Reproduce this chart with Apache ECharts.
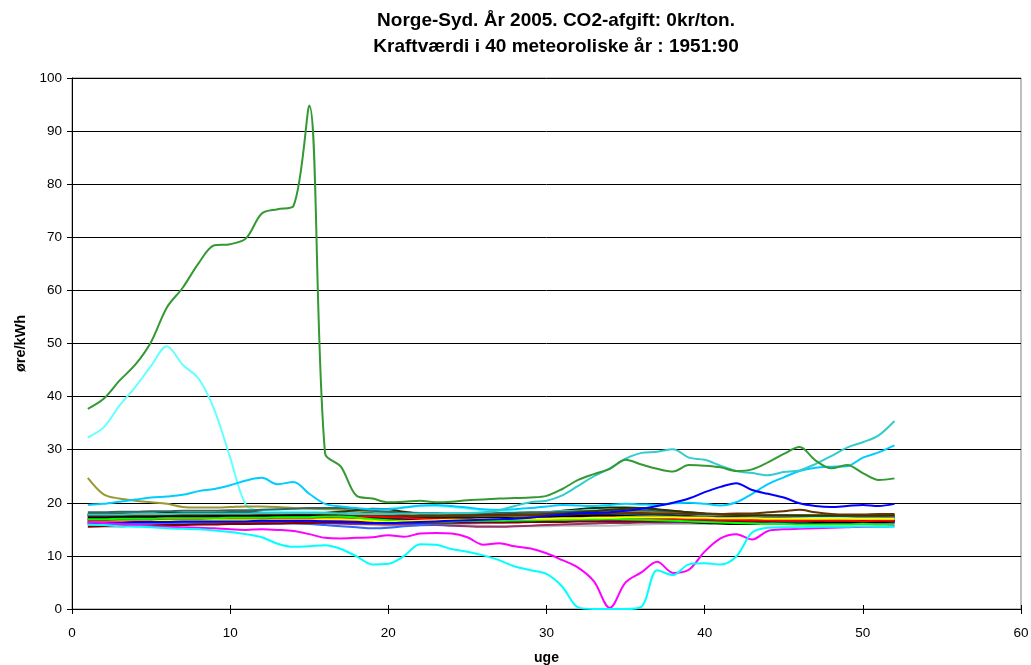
<!DOCTYPE html>
<html>
<head>
<meta charset="utf-8">
<script src="https://cdn.jsdelivr.net/npm/echarts@6/dist/echarts.min.js"></script>
<style>
  html, body { margin: 0; padding: 0; background: #fff; }
  #chart { width: 1031px; height: 665px; }
</style>
</head>
<body>
<div id="chart"></div>
<script>
// Uge-nummer (1..52) på x-aksen
const weeks = [1,2,3,4,5,6,7,8,9,10,11,12,13,14,15,16,17,18,19,20,21,22,23,24,25,26,
  27,28,29,30,31,32,33,34,35,36,37,38,39,40,41,42,43,44,45,46,47,48,49,50,51,52];

// Kraftværdi (øre/kWh) pr. uge, ét array pr. meteorologisk år
const serGreen = [37.7,39.6,43.0,46.0,50.3,56.8,60.5,65.1,68.5,68.7,69.8,74.5,75.3,
  75.9,94.8,29.3,26.8,21.3,20.8,20.1,20.2,20.4,20.1,20.2,20.5,20.6,
  20.8,20.9,21.0,21.3,22.6,24.3,25.4,26.4,28.1,27.2,26.4,25.9,27.1,
  27.0,26.7,26.0,26.3,27.6,29.2,30.5,28.0,26.5,27.1,25.6,24.3,24.6];
const serLightCyan = [32.3,34.2,38.3,41.8,45.8,49.5,46.0,43.4,37.5,28.5,19.6,18.5,18.4,
  18.3,18.3,18.2,18.3,18.4,18.6,18.9,19.2,19.4,19.4,19.2,18.9,18.6,
  18.4,18.3,18.2,18.3,18.4,18.5,18.6,18.5,18.4,18.3,18.2,18.1,17.9,
  17.8,17.8,17.7,17.6,17.5,17.5,17.4,17.3,17.2,17.1,17.0,17.0,16.9];
const serOlive = [24.7,21.6,20.8,20.4,20.1,19.8,19.2,19.1,19.1,19.2,19.3,19.3,19.2,
  19.0,18.9,18.8,18.7,18.5,18.3,18.1,18.0,17.9,17.9,17.9,17.9,17.9,
  17.9,18.0,18.0,18.1,18.1,18.2,18.2,18.3,18.3,18.3,18.2,18.1,18.0,
  17.9,17.8,17.7,17.7,17.7,17.6,17.6,17.6,17.6,17.6,17.6,17.6,17.6];
const serSkyBlue = [19.6,19.8,20.2,20.6,21.0,21.2,21.5,22.2,22.6,23.3,24.2,24.7,23.5,
  23.9,21.7,19.8,19.3,19.0,18.8,18.8,19.1,19.5,19.6,19.4,19.1,18.8,
  18.7,18.8,19.0,19.3,19.6,19.5,19.4,19.6,19.8,19.7,19.6,19.9,20.0,
  19.8,19.5,20.1,21.7,23.5,24.8,26.0,26.6,26.8,26.9,28.5,29.5,30.8];
const serTeal = [17.8,17.8,17.8,17.9,17.9,17.9,18.0,18.0,18.0,18.0,18.0,18.1,18.1,
  18.1,18.1,18.1,18.0,17.9,17.9,17.9,18.0,18.0,18.0,18.1,18.1,18.2,
  18.6,19.4,20.1,20.4,21.4,23.2,25.0,26.5,28.3,29.4,29.6,30.1,28.5,
  28.1,27.0,26.0,25.6,25.2,25.8,26.1,27.3,28.8,30.4,31.4,32.7,35.4];
const serBlue = [16.3,16.3,16.3,16.4,16.4,16.4,16.5,16.5,16.5,16.5,16.5,16.6,16.6,
  16.6,16.6,16.5,16.4,16.3,16.2,16.2,16.3,16.4,16.5,16.6,16.7,16.8,
  16.9,17.0,17.2,17.5,17.8,18.0,18.1,18.2,18.5,18.9,19.4,20.0,20.8,
  22.0,23.0,23.7,22.4,21.7,21.0,19.9,19.4,19.2,19.4,19.6,19.4,19.8];
const serMagenta = [16.4,16.2,16.0,15.8,15.6,15.5,15.4,15.3,15.2,15.0,14.9,15.0,14.9,
  14.7,14.1,13.4,13.3,13.4,13.5,13.9,13.6,14.2,14.3,14.2,13.5,12.1,
  12.4,11.8,11.4,10.5,9.2,7.8,5.2,0.2,5.0,6.9,8.9,6.8,7.4,
  10.8,13.3,14.1,13.1,14.7,15.0,15.1,15.2,15.3,15.4,15.5,15.5,15.6];
const serCyan = [15.9,15.8,15.6,15.5,15.4,15.2,15.1,15.0,14.8,14.5,14.1,13.5,12.3,
  11.7,11.8,12.0,11.3,9.9,8.4,8.5,10.0,12.2,12.1,11.3,10.8,10.1,
  9.2,8.0,7.3,6.6,4.2,0.3,0.0,0.0,0.0,0.4,7.3,6.4,8.4,
  8.6,8.4,9.9,14.4,15.3,15.4,15.4,15.5,15.5,15.5,15.6,15.5,15.5];
const serBrown = [17.4,17.4,17.5,17.5,17.5,17.5,17.6,17.6,17.6,17.6,17.7,17.7,17.7,
  17.7,17.7,17.7,17.6,17.6,17.5,17.5,17.5,17.5,17.5,17.5,17.6,17.6,
  17.6,17.7,17.7,17.8,17.8,17.9,17.9,18.0,18.1,18.1,18.0,18.0,17.9,
  17.9,17.9,18.0,18.0,18.2,18.4,18.7,18.2,17.9,17.8,17.8,17.9,17.9];
const serDarkOlive = [17.6,17.6,17.7,17.7,17.7,17.8,17.8,17.8,17.9,17.9,17.9,17.9,18.0,
  18.0,18.0,18.1,18.3,18.6,18.9,18.8,18.3,17.9,17.7,17.6,17.6,17.7,
  17.7,17.8,17.8,17.9,18.0,18.2,18.4,18.7,18.9,19.0,18.8,18.5,18.2,
  18.0,17.8,17.7,17.6,17.6,17.6,17.6,17.6,17.6,17.6,17.6,17.6,17.7];
const serDarkSlate = [18.2,18.2,18.3,18.3,18.4,18.4,18.5,18.5,18.5,18.6,18.6,18.7,18.8,
  18.9,19.0,19.0,19.0,18.8,18.5,18.3,18.2,18.1,18.1,18.0,18.0,18.0,
  18.1,18.1,18.2,18.2,18.3,18.4,18.5,18.6,18.6,18.6,18.5,18.4,18.2,
  18.0,17.9,17.8,17.7,17.6,17.6,17.5,17.5,17.5,17.5,17.4,17.4,17.4];

const serRed = [16.6,16.6,16.7,16.7,16.8,16.8,16.8,16.9,16.9,16.9,17.0,17.0,17.0,
  17.0,17.1,17.1,17.2,17.3,17.4,17.3,17.2,17.0,16.9,16.9,16.8,16.8,
  16.8,16.9,16.9,17.0,17.0,17.1,17.2,17.3,17.2,17.1,17.0,17.0,16.9,
  16.9,16.8,16.8,16.7,16.7,16.6,16.6,16.7,16.6,16.6,16.5,16.6,16.6];
const serYellow = [16.4,16.4,16.5,16.5,16.5,16.6,16.6,16.6,16.7,16.7,16.7,16.7,16.8,
  16.8,16.8,16.9,16.9,16.8,16.6,16.4,16.5,16.6,16.7,16.8,16.8,16.9,
  16.9,17.0,17.0,17.0,17.1,17.1,17.2,17.2,17.3,17.3,17.3,17.3,17.2,
  17.2,17.1,17.1,17.1,17.0,17.0,17.0,17.0,17.0,17.0,17.0,17.0,17.0];
const serLime = [16.9,16.9,17.0,17.0,17.0,17.1,17.1,17.1,17.1,17.2,17.2,17.2,17.3,
  17.3,17.3,17.4,17.4,17.2,16.9,16.7,16.6,16.5,16.5,16.5,16.6,16.6,
  16.6,16.7,16.7,16.8,16.8,16.9,16.9,17.0,16.9,16.8,16.7,16.6,16.5,
  16.4,16.3,16.2,16.1,16.0,16.0,15.9,15.9,15.9,15.9,16.0,15.9,15.9];
const serBlack = [17.2,17.2,17.3,17.3,17.3,17.4,17.4,17.4,17.5,17.5,17.5,17.5,17.5,
  17.6,17.6,17.5,17.4,17.3,17.2,17.2,17.2,17.1,17.1,17.1,17.1,17.1,
  17.1,17.2,17.2,17.3,17.4,17.5,17.6,17.6,17.5,17.3,17.0,16.7,16.4,
  16.2,16.1,16.0,16.0,16.0,16.1,16.1,16.2,16.3,16.3,16.4,16.4,16.5];
const serNavy = [16.9,16.9,16.9,17.0,17.0,17.0,17.1,17.1,17.1,17.2,17.2,17.2,17.3,
  17.3,17.3,17.3,17.2,17.0,16.8,16.8,16.9,16.9,17.0,17.0,17.0,17.1,
  17.1,17.1,17.2,17.2,17.3,17.3,17.4,17.4,17.4,17.4,17.3,17.3,17.2,
  17.2,17.1,17.1,17.0,17.0,17.0,17.0,16.9,16.9,16.9,16.9,16.9,16.9];
const serDarkRed = [15.5,15.6,15.6,15.7,15.7,15.8,15.8,15.9,15.9,16.0,16.0,16.1,16.1,
  16.2,16.2,16.3,16.3,16.4,16.4,16.4,16.4,16.4,16.3,16.3,16.3,16.3,
  16.3,16.3,16.4,16.4,16.4,16.5,16.5,16.5,16.5,16.5,16.5,16.5,16.5,
  16.5,16.5,16.5,16.5,16.5,16.6,16.6,16.6,16.6,16.6,16.6,16.6,16.6];
const serPurple = [16.1,16.1,16.2,16.2,16.2,16.3,16.3,16.3,16.4,16.4,16.4,16.5,16.5,
  16.5,16.6,16.6,16.6,16.7,16.7,16.7,16.6,16.6,16.6,16.6,16.6,16.7,
  16.7,16.7,16.8,16.8,16.8,16.9,16.9,16.9,16.9,16.8,16.8,16.8,16.7,
  16.7,16.7,16.6,16.6,16.6,16.6,16.5,16.5,16.5,16.5,16.5,16.5,16.5];
const serMaroon = [16.0,16.0,16.0,16.1,16.1,16.1,16.2,16.2,16.2,16.2,16.3,16.3,16.3,
  16.3,16.3,16.2,16.1,16.0,16.0,15.9,15.9,15.8,15.8,15.7,15.6,15.5,
  15.5,15.6,15.7,15.8,15.9,16.0,16.1,16.2,16.2,16.3,16.3,16.3,16.3,
  16.3,16.3,16.3,16.3,16.2,16.2,16.2,16.2,16.2,16.2,16.2,16.2,16.2];
const serRoyal = [16.0,16.0,16.0,16.1,16.1,16.1,16.1,16.1,16.0,16.0,16.0,16.0,16.1,
  16.1,16.0,15.8,15.6,15.4,15.2,15.3,15.6,15.8,16.0,16.1,16.2,16.3,
  16.3,16.4,16.4,16.5,16.5,16.6,16.6,16.6,16.6,16.5,16.5,16.4,16.4,
  16.3,16.3,16.3,16.3,16.3,16.3,16.3,16.3,16.3,16.3,16.3,16.3,16.3];
const serLavender = [16.8,16.8,16.8,16.9,16.9,16.9,17.0,17.0,17.0,17.0,17.1,17.1,17.1,
  17.1,17.2,17.2,17.2,17.1,17.1,17.0,17.0,17.0,17.0,17.0,17.0,17.0,
  17.0,17.1,17.1,17.1,17.2,17.2,17.3,17.3,17.3,17.3,17.2,17.2,17.2,
  17.1,17.1,17.1,17.0,17.0,17.0,17.0,17.0,17.0,17.0,17.0,17.0,17.0];
const serPink = [17.5,17.5,17.5,17.6,17.6,17.6,17.6,17.7,17.7,17.7,17.7,17.7,17.8,
  17.8,17.8,17.8,17.7,17.6,17.5,17.4,17.3,17.3,17.3,17.3,17.3,17.3,
  17.4,17.4,17.4,17.5,17.5,17.6,17.6,17.7,17.7,17.6,17.6,17.5,17.4,
  17.4,17.3,17.3,17.2,17.2,17.2,17.1,17.1,17.1,17.1,17.1,17.1,17.1];
const serPeriwinkle = [16.3,16.3,16.4,16.4,16.4,16.5,16.5,16.5,16.6,16.6,16.6,16.6,16.7,
  16.7,16.7,16.6,16.5,16.4,16.3,16.3,16.3,16.4,16.4,16.5,16.5,16.5,
  16.6,16.6,16.6,16.7,16.7,16.8,16.8,16.8,16.8,16.7,16.7,16.6,16.6,
  16.5,16.5,16.5,16.4,16.4,16.4,16.4,16.4,16.4,16.4,16.4,16.4,16.4];
const serOrange = [17.0,17.0,17.1,17.1,17.1,17.2,17.2,17.2,17.2,17.3,17.3,17.3,17.3,
  17.4,17.4,17.5,17.6,17.6,17.5,17.4,17.3,17.2,17.2,17.1,17.1,17.1,
  17.2,17.2,17.3,17.3,17.4,17.4,17.5,17.5,17.5,17.5,17.4,17.4,17.3,
  17.3,17.2,17.2,17.1,17.1,17.1,17.1,17.0,17.0,17.0,17.0,17.0,17.0];
const serGold = [17.1,17.1,17.1,17.2,17.2,17.2,17.3,17.3,17.3,17.3,17.4,17.4,17.4,
  17.4,17.4,17.3,17.2,17.1,17.0,17.0,17.1,17.1,17.2,17.2,17.3,17.3,
  17.3,17.4,17.4,17.4,17.5,17.5,17.6,17.6,17.6,17.5,17.5,17.4,17.4,
  17.3,17.3,17.2,17.2,17.2,17.2,17.2,17.2,17.2,17.2,17.2,17.2,17.2];
const serYellowGreen = [17.4,17.4,17.4,17.5,17.5,17.5,17.6,17.6,17.6,17.6,17.7,17.7,17.7,
  17.7,17.7,17.8,17.8,17.7,17.5,17.3,17.2,17.1,17.1,17.1,17.1,17.2,
  17.2,17.3,17.3,17.4,17.4,17.5,17.6,17.7,17.7,17.7,17.6,17.5,17.4,
  17.3,17.3,17.2,17.2,17.1,17.1,17.1,17.1,17.1,17.1,17.1,17.1,17.1];
const serDarkTeal = [17.7,17.7,17.8,17.8,17.8,17.9,17.9,17.9,18.0,18.0,18.0,18.0,18.0,
  18.1,18.1,18.1,18.0,17.9,17.8,17.7,17.7,17.7,17.7,17.7,17.7,17.8,
  17.8,17.8,17.9,17.9,18.0,18.0,18.1,18.1,18.1,18.1,18.0,18.0,17.9,
  17.8,17.8,17.7,17.7,17.6,17.6,17.6,17.5,17.5,17.5,17.5,17.5,17.5];
const serMidnight = [17.6,17.6,17.6,17.7,17.7,17.7,17.8,17.8,17.8,17.8,17.9,17.9,17.9,
  17.9,17.9,17.9,17.8,17.8,17.7,17.6,17.5,17.5,17.5,17.5,17.6,17.6,
  17.6,17.7,17.7,17.8,17.8,17.9,17.9,18.0,18.0,17.9,17.8,17.7,17.6,
  17.6,17.5,17.5,17.4,17.4,17.4,17.3,17.3,17.3,17.3,17.3,17.3,17.3];
const serIndigo = [16.5,16.5,16.6,16.6,16.6,16.6,16.7,16.7,16.7,16.7,16.8,16.8,16.8,
  16.8,16.8,16.8,16.7,16.6,16.4,16.2,16.1,16.1,16.2,16.3,16.4,16.4,
  16.5,16.5,16.6,16.6,16.7,16.7,16.8,16.8,16.8,16.8,16.7,16.7,16.6,
  16.6,16.6,16.5,16.5,16.5,16.5,16.5,16.5,16.5,16.5,16.5,16.5,16.5];
const serCharcoal = [17.8,17.8,17.9,17.9,17.9,18.0,18.0,18.0,18.0,18.0,18.1,18.1,18.1,
  18.1,18.1,18.1,18.0,17.9,17.8,17.8,17.8,17.8,17.8,17.8,17.8,17.9,
  17.9,18.0,18.0,18.1,18.2,18.3,18.4,18.5,18.5,18.4,18.3,18.1,17.9,
  17.8,17.7,17.6,17.5,17.5,17.4,17.4,17.4,17.4,17.4,17.4,17.4,17.4];
const serSilver = [15.7,15.7,15.8,15.8,15.8,15.9,15.9,15.9,16.0,16.0,16.0,16.0,16.1,
  16.1,16.1,16.1,16.0,15.9,15.8,15.7,15.7,15.7,15.8,15.8,15.8,15.7,
  15.6,15.6,15.6,15.6,15.7,15.7,15.7,15.7,15.8,15.9,16.0,16.0,16.0,
  16.0,16.0,16.0,16.0,16.0,16.0,16.0,16.0,16.0,16.0,16.0,16.0,16.0];
const serGray = [17.0,17.0,17.0,17.1,17.1,17.1,17.1,17.2,17.2,17.2,17.2,17.3,17.3,
  17.3,17.3,17.3,17.3,17.2,17.2,17.1,17.1,17.1,17.1,17.1,17.2,17.2,
  17.2,17.2,17.3,17.3,17.3,17.4,17.4,17.4,17.4,17.4,17.3,17.3,17.2,
  17.2,17.2,17.1,17.1,17.1,17.1,17.1,17.1,17.1,17.1,17.1,17.1,17.1];
const serDarkGreen = [17.9,17.9,18.0,18.0,18.0,18.1,18.1,18.1,18.1,18.2,18.2,18.2,18.2,
  18.2,18.2,18.1,18.0,18.0,18.1,18.1,18.0,17.9,17.8,17.7,17.7,17.8,
  17.8,17.9,18.0,18.2,18.5,18.8,19.0,19.1,19.1,19.0,18.7,18.4,18.1,
  17.9,17.8,17.7,17.6,17.6,17.6,17.6,17.6,17.6,17.6,17.7,17.7,17.7];
const serSlateBlue = [16.7,16.7,16.7,16.8,16.8,16.8,16.9,16.9,16.9,16.9,17.0,17.0,17.0,
  17.0,17.0,17.0,16.9,16.8,16.7,16.7,16.7,16.8,16.8,16.8,16.8,16.9,
  16.9,16.9,17.0,17.0,17.0,17.1,17.1,17.1,17.1,17.1,17.0,17.0,16.9,
  16.9,16.8,16.8,16.8,16.7,16.7,16.7,16.7,16.7,16.7,16.7,16.7,16.7];
const serMint = [16.3,16.3,16.3,16.4,16.4,16.4,16.5,16.5,16.5,16.5,16.6,16.6,16.6,
  16.6,16.6,16.6,16.5,16.5,16.4,16.4,16.4,16.4,16.4,16.5,16.5,16.5,
  16.5,16.5,16.6,16.6,16.6,16.6,16.7,16.7,16.7,16.7,16.6,16.6,16.6,
  16.5,16.5,16.5,16.5,16.5,16.5,16.5,16.5,16.5,16.5,16.5,16.5,16.5];
const serPaleYellow = [16.6,16.6,16.6,16.7,16.7,16.7,16.8,16.8,16.8,16.8,16.8,16.9,16.9,
  16.9,16.9,16.9,16.8,16.8,16.7,16.6,16.6,16.6,16.6,16.7,16.7,16.7,
  16.7,16.8,16.8,16.8,16.9,16.9,16.9,17.0,17.0,17.0,16.9,16.9,16.8,
  16.8,16.8,16.7,16.7,16.7,16.7,16.7,16.7,16.7,16.7,16.7,16.7,16.7];
const serPaleBlue = [17.3,17.3,17.3,17.4,17.4,17.4,17.4,17.5,17.5,17.5,17.5,17.6,17.6,
  17.6,17.6,17.6,17.5,17.4,17.3,17.3,17.3,17.3,17.3,17.4,17.4,17.4,
  17.4,17.5,17.5,17.5,17.6,17.6,17.7,17.7,17.7,17.7,17.6,17.5,17.5,
  17.4,17.4,17.3,17.3,17.3,17.2,17.2,17.2,17.2,17.2,17.2,17.2,17.2];
const serSeaGreen = [17.5,17.5,17.6,17.6,17.6,17.7,17.7,17.7,17.7,17.8,17.8,17.8,17.8,
  17.8,17.8,17.8,17.7,17.7,17.6,17.5,17.5,17.5,17.5,17.5,17.5,17.6,
  17.6,17.6,17.7,17.7,17.8,17.8,17.9,17.9,17.9,17.9,17.8,17.7,17.7,
  17.6,17.5,17.5,17.4,17.4,17.4,17.3,17.3,17.3,17.3,17.3,17.3,17.3];
const serAmber = [16.8,16.8,16.9,16.9,16.9,17.0,17.0,17.0,17.0,17.1,17.1,17.1,17.1,
  17.1,17.2,17.2,17.2,17.3,17.3,17.2,17.1,17.0,17.0,17.0,17.0,17.0,
  17.1,17.1,17.1,17.2,17.2,17.3,17.3,17.3,17.3,17.3,17.2,17.2,17.1,
  17.1,17.0,17.0,17.0,16.9,16.9,16.9,16.9,16.9,16.9,16.9,16.9,16.9];
const serPlum = [16.4,16.4,16.4,16.5,16.5,16.5,16.5,16.6,16.6,16.6,16.6,16.6,16.7,
  16.7,16.7,16.7,16.6,16.6,16.5,16.5,16.5,16.5,16.5,16.5,16.6,16.6,
  16.6,16.6,16.7,16.7,16.7,16.8,16.8,16.8,16.8,16.8,16.7,16.7,16.7,
  16.6,16.6,16.6,16.6,16.6,16.6,16.6,16.6,16.6,16.6,16.6,16.6,16.6];

// Akse-inddeling
const xTicks = { min: 0, max: 60, step: 10 };
const yTicks = { min: 0, max: 100, step: 10 };

// Tegnerækkefølge: de tætte kurver først, de afvigende år øverst
const lines = [
  ['Mint', serMint, '#CCFFCC'],
  ['Silver', serSilver, '#C0C0C0'],
  ['PaleYellow', serPaleYellow, '#FFFF99'],
  ['PaleBlue', serPaleBlue, '#99CCFF'],
  ['Lavender', serLavender, '#CC99FF'],
  ['Pink', serPink, '#FF99CC'],
  ['Periwinkle', serPeriwinkle, '#9999FF'],
  ['Amber', serAmber, '#FF9900'],
  ['Gold', serGold, '#FFCC00'],
  ['Orange', serOrange, '#FF6600'],
  ['YellowGreen', serYellowGreen, '#99CC00'],
  ['SeaGreen', serSeaGreen, '#339966'],
  ['DarkTeal', serDarkTeal, '#008080'],
  ['Midnight', serMidnight, '#003366'],
  ['Charcoal', serCharcoal, '#333333'],
  ['Gray', serGray, '#808080'],
  ['SlateBlue', serSlateBlue, '#666699'],
  ['Indigo', serIndigo, '#333399'],
  ['Plum', serPlum, '#660066'],
  ['Purple', serPurple, '#800080'],
  ['Maroon', serMaroon, '#993366'],
  ['Royal', serRoyal, '#3366FF'],
  ['Navy', serNavy, '#000080'],
  ['DarkGreen', serDarkGreen, '#003300'],
  ['LightCyan', serLightCyan, '#66FFFF'],
  ['Olive', serOlive, '#999933'],
  ['DarkSlate', serDarkSlate, '#336666'],
  ['DarkOlive', serDarkOlive, '#333300'],
  ['Brown', serBrown, '#663300'],
  ['DarkRed', serDarkRed, '#800000'],
  ['Black', serBlack, '#000000'],
  ['Red', serRed, '#FF0000'],
  ['Lime', serLime, '#00FF00'],
  ['Yellow', serYellow, '#FFFF00'],
  ['SkyBlue', serSkyBlue, '#00CCFF'],
  ['Teal', serTeal, '#33CCCC'],
  ['Blue', serBlue, '#0000FF'],
  ['Magenta', serMagenta, '#FF00FF'],
  ['Cyan', serCyan, '#00FFFF'],
  ['Green', serGreen, '#339933']
];

const font = 'Liberation Sans, Arial, sans-serif';

const chart = echarts.init(document.getElementById('chart'), null, { renderer: 'canvas' });
chart.setOption({
  animation: false,
  backgroundColor: '#ffffff',
  title: {
    text: 'Norge-Syd. År 2005. CO2-afgift: 0kr/ton.\nKraftværdi i 40 meteoroliske år : 1951:90',
    left: 551,
    top: 3,
    textAlign: 'center',
    textStyle: { fontFamily: font, fontSize: 19, fontWeight: 'bold', color: '#000', lineHeight: 26 }
  },
  grid: {
    left: 72, right: 10, top: 78, bottom: 56,
    outerBoundsMode: 'none',
    containLabel: false,
    show: true, borderColor: '#808080', borderWidth: 1, backgroundColor: 'transparent'
  },
  xAxis: [
    {
      type: 'value',
      min: xTicks.min, max: xTicks.max, interval: xTicks.step,
      name: 'uge', nameLocation: 'middle', nameGap: 42,
      nameTextStyle: { fontFamily: font, fontSize: 14, fontWeight: 'bold', color: '#000' },
      axisLine: { show: true, lineStyle: { color: '#000', width: 1 } },
      axisTick: { show: true, length: 5, lineStyle: { color: '#000' } },
      axisLabel: { fontFamily: font, fontSize: 13.5, color: '#000', margin: 17 },
      splitLine: { show: false }
    },
    {
      // indvendig halvdel af krydsende aksemærker
      type: 'value', position: 'bottom',
      min: xTicks.min, max: xTicks.max, interval: xTicks.step,
      axisLine: { show: false },
      axisTick: { show: true, inside: true, length: 4, lineStyle: { color: '#000' } },
      axisLabel: { show: false },
      splitLine: { show: false }
    }
  ],
  yAxis: {
    type: 'value',
    min: yTicks.min, max: yTicks.max, interval: yTicks.step,
    name: 'øre/kWh', nameLocation: 'middle', nameGap: 41, nameRotate: 90,
    nameTextStyle: { fontFamily: font, fontSize: 14.5, fontWeight: 'bold', color: '#000' },
    axisLine: { show: true, lineStyle: { color: '#000', width: 1 } },
    axisTick: { show: true, length: 5, lineStyle: { color: '#000' } },
    axisLabel: { fontFamily: font, fontSize: 13.5, color: '#000', margin: 10 },
    splitLine: { show: true, lineStyle: { color: '#000', width: 1 } }
  },
  series: lines.map(([name, vals, color]) => ({
    name: name,
    type: 'line',
    xAxisIndex: 0,
    data: weeks.map((w, i) => [w, vals[i]]),
    smooth: 0.33,
    showSymbol: false,
    symbol: 'none',
    clip: true,
    lineStyle: { color: color, width: 2 },
    itemStyle: { color: color },
    emphasis: { disabled: true }
  }))
});
</script>
</body>
</html>
